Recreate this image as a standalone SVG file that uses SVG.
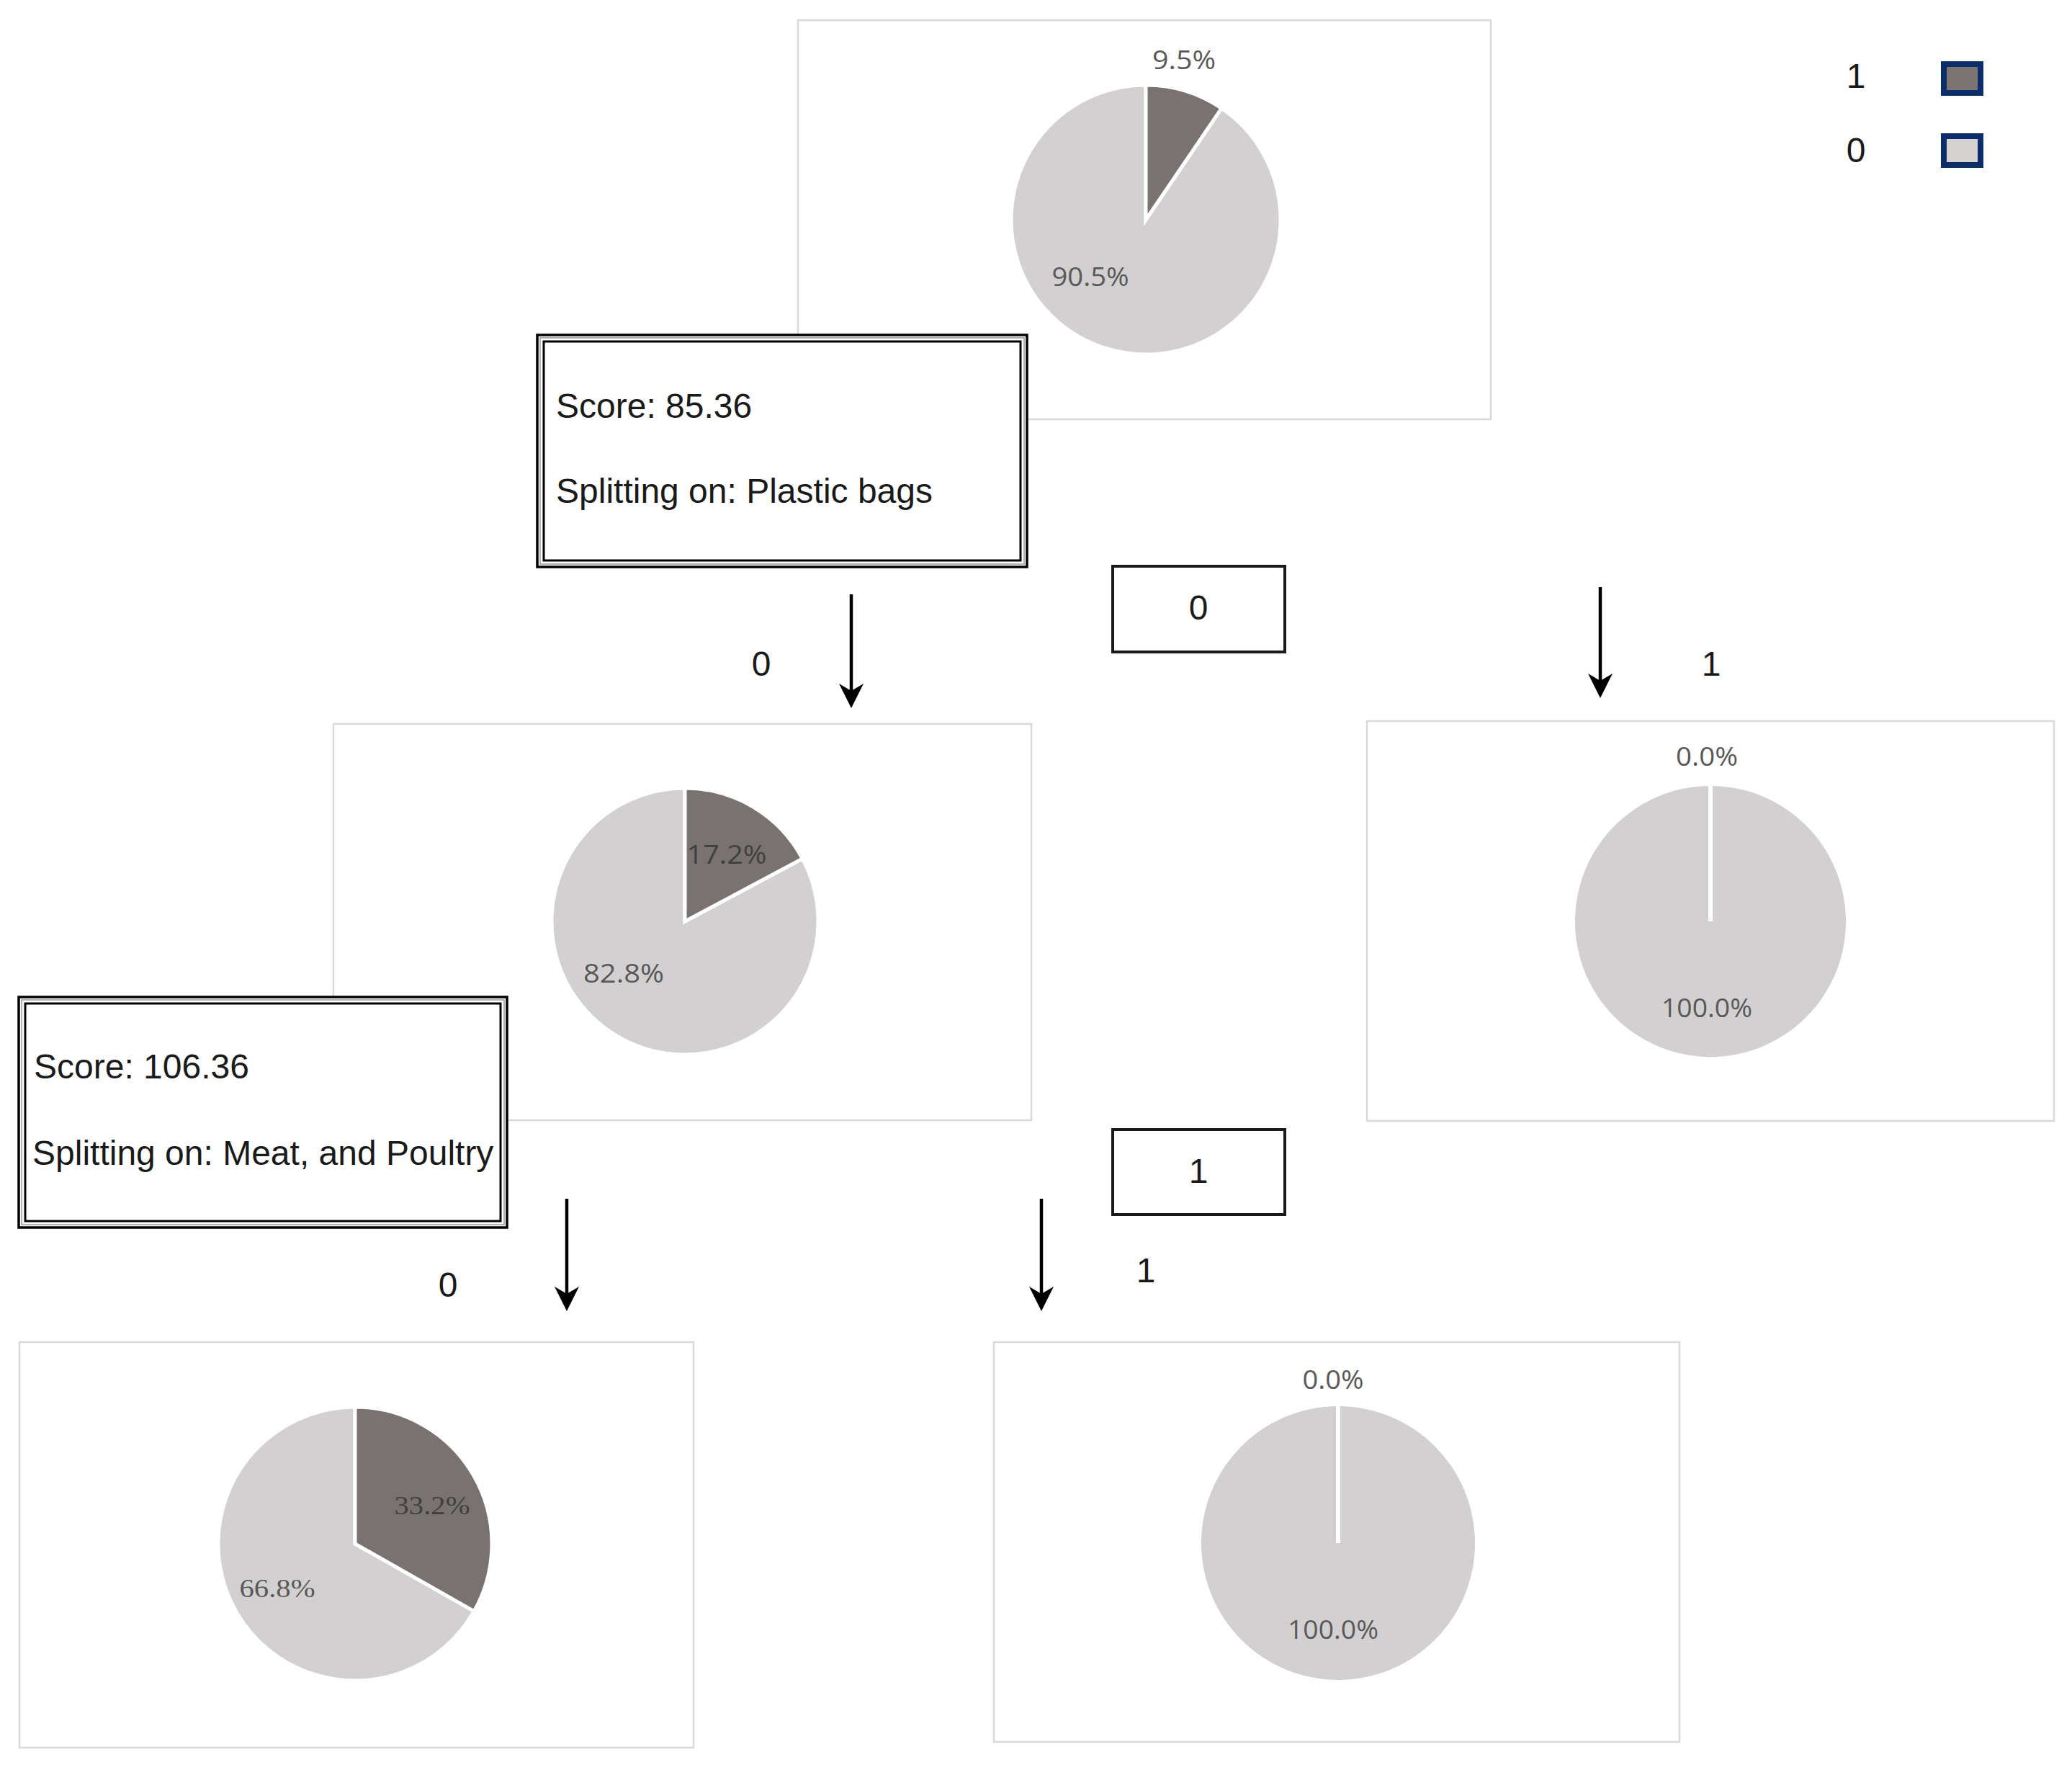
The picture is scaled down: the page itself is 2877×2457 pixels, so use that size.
<svg xmlns="http://www.w3.org/2000/svg" width="2877" height="2457" viewBox="0 0 2877 2457">
<style>
.frame{fill:#fff;stroke:#d9d9d9;stroke-width:2.5}
.dark{fill:#787370;stroke:#fff;stroke-width:5;stroke-linejoin:miter}
.light{fill:#d3d0d1;stroke:#fff;stroke-width:5}
.full{fill:#d3d0d1}
.sep{stroke:#fff;stroke-width:6}
.pl{font-family:"Open Sans","Noto Sans",sans-serif;font-size:36px;fill:#595959;text-anchor:middle}
.pld{fill:#404040}
.ser{font-family:"Liberation Serif",serif}
.t{font-family:"Liberation Sans",Arial,sans-serif;font-size:48px;fill:#1a1a1a}
.c{text-anchor:middle}
.box{fill:#fff;stroke:#000;stroke-width:3.5}
.inner{fill:none;stroke:#000;stroke-width:3}
.mid{fill:none;stroke:#999;stroke-width:1.5}
.lbl{fill:#fff;stroke:#1a1a1a;stroke-width:4}
.arr{stroke:#000;stroke-width:4.5;fill:none;marker-end:url(#ah)}
.leg{stroke:#0b2d6b;stroke-width:8}
</style>
<defs>
<marker id="ah" markerUnits="userSpaceOnUse" markerWidth="44" markerHeight="44" viewBox="-38 -22 44 44" refX="-22" refY="0" orient="auto">
<path d="M0,0 L-34,-17 L-24,0 L-34,17 Z" fill="#000"/>
</marker>
</defs>
<rect width="2877" height="2457" fill="#fff"/>

<g id="root-chart">
<rect class="frame" x="1108" y="28" width="962" height="554"/>
<path class="light" d="M1591,305 L1696.1,150.3 A187,187 0 1 1 1591,118 Z"/>
<path class="dark" d="M1591,305 L1591,118 A187,187 0 0 1 1696.1,150.3 Z"/>
<text class="pl" x="1644" y="96" textLength="88" lengthAdjust="spacingAndGlyphs">9.5%</text>
<text class="pl" x="1514" y="397" textLength="107" lengthAdjust="spacingAndGlyphs">90.5%</text>
</g>

<g id="legend">
<text class="t c" x="2577" y="122">1</text>
<rect class="leg" x="2699" y="89" width="51" height="40" fill="#7b7471"/>
<text class="t c" x="2577" y="225">0</text>
<rect class="leg" x="2699" y="189" width="51" height="40" fill="#d6d2d2"/>
</g>

<g id="split-1">
<rect class="box" x="746" y="465" width="680" height="322"/>
<rect class="mid" x="750" y="469" width="672" height="314"/>
<rect class="inner" x="755" y="474" width="662" height="304"/>
<text class="t" x="772" y="580">Score: 85.36</text>
<text class="t" x="772" y="698">Splitting on: Plastic bags</text>
</g>

<g id="edge-label-0">
<rect class="lbl" x="1545" y="786" width="239" height="119"/>
<text class="t c" x="1664" y="860">0</text>
</g>

<g id="left-chart">
<rect class="frame" x="463" y="1005" width="969" height="550"/>
<path class="light" d="M951,1279 L1114.2,1191.9 A185,185 0 1 1 951,1094 Z"/>
<path class="dark" d="M951,1279 L951,1094 A185,185 0 0 1 1114.2,1191.9 Z"/>
<text class="pl pld" x="1009" y="1199" textLength="111" lengthAdjust="spacingAndGlyphs">17.2%</text>
<text class="pl" x="866" y="1364" textLength="112" lengthAdjust="spacingAndGlyphs">82.8%</text>
</g>

<g id="right-chart">
<rect class="frame" x="1898" y="1001" width="954" height="555"/>
<circle class="full" cx="2375" cy="1279" r="188"/>
<line class="sep" x1="2375" y1="1279" x2="2375" y2="1089"/>
<text class="pl" x="2370" y="1063" textLength="86" lengthAdjust="spacingAndGlyphs">0.0%</text>
<text class="pl" x="2370" y="1412" textLength="126" lengthAdjust="spacingAndGlyphs">100.0%</text>
</g>

<g id="split-2">
<rect class="box" x="26" y="1384" width="678" height="320"/>
<rect class="mid" x="30" y="1388" width="670" height="312"/>
<rect class="inner" x="35" y="1393" width="660" height="302"/>
<text class="t" x="47" y="1497">Score: 106.36</text>
<text class="t" x="45" y="1617">Splitting on: Meat, and Poultry</text>
</g>

<g id="edge-label-1">
<rect class="lbl" x="1545" y="1568" width="239" height="118"/>
<text class="t c" x="1664" y="1642">1</text>
</g>

<g id="left-left-chart">
<rect class="frame" x="27" y="1863" width="936" height="563"/>
<path class="light" d="M493,2143 L658.3,2236.6 A190,190 0 1 1 493,1953 Z"/>
<path class="dark" d="M493,2143 L493,1953 A190,190 0 0 1 658.3,2236.6 Z"/>
<text class="pl pld ser" x="600" y="2102" textLength="105" lengthAdjust="spacingAndGlyphs">33.2%</text>
<text class="pl ser" x="385" y="2217" textLength="105" lengthAdjust="spacingAndGlyphs">66.8%</text>
</g>

<g id="left-right-chart">
<rect class="frame" x="1380" y="1863" width="952" height="555"/>
<circle class="full" cx="1858" cy="2142" r="190"/>
<line class="sep" x1="1858" y1="2142" x2="1858" y2="1950"/>
<text class="pl" x="1851" y="1928" textLength="85" lengthAdjust="spacingAndGlyphs">0.0%</text>
<text class="pl" x="1851" y="2275" textLength="126" lengthAdjust="spacingAndGlyphs">100.0%</text>
</g>

<g id="connectors">
<line class="arr" x1="1182" y1="825" x2="1182" y2="961"/>
<line class="arr" x1="2222" y1="815" x2="2222" y2="947"/>
<line class="arr" x1="787" y1="1664" x2="787" y2="1798"/>
<line class="arr" x1="1446" y1="1664" x2="1446" y2="1798"/>
<text class="t c" x="1057" y="938">0</text>
<text class="t c" x="2376" y="938">1</text>
<text class="t c" x="622" y="1800">0</text>
<text class="t c" x="1591" y="1780">1</text>
</g>
</svg>
